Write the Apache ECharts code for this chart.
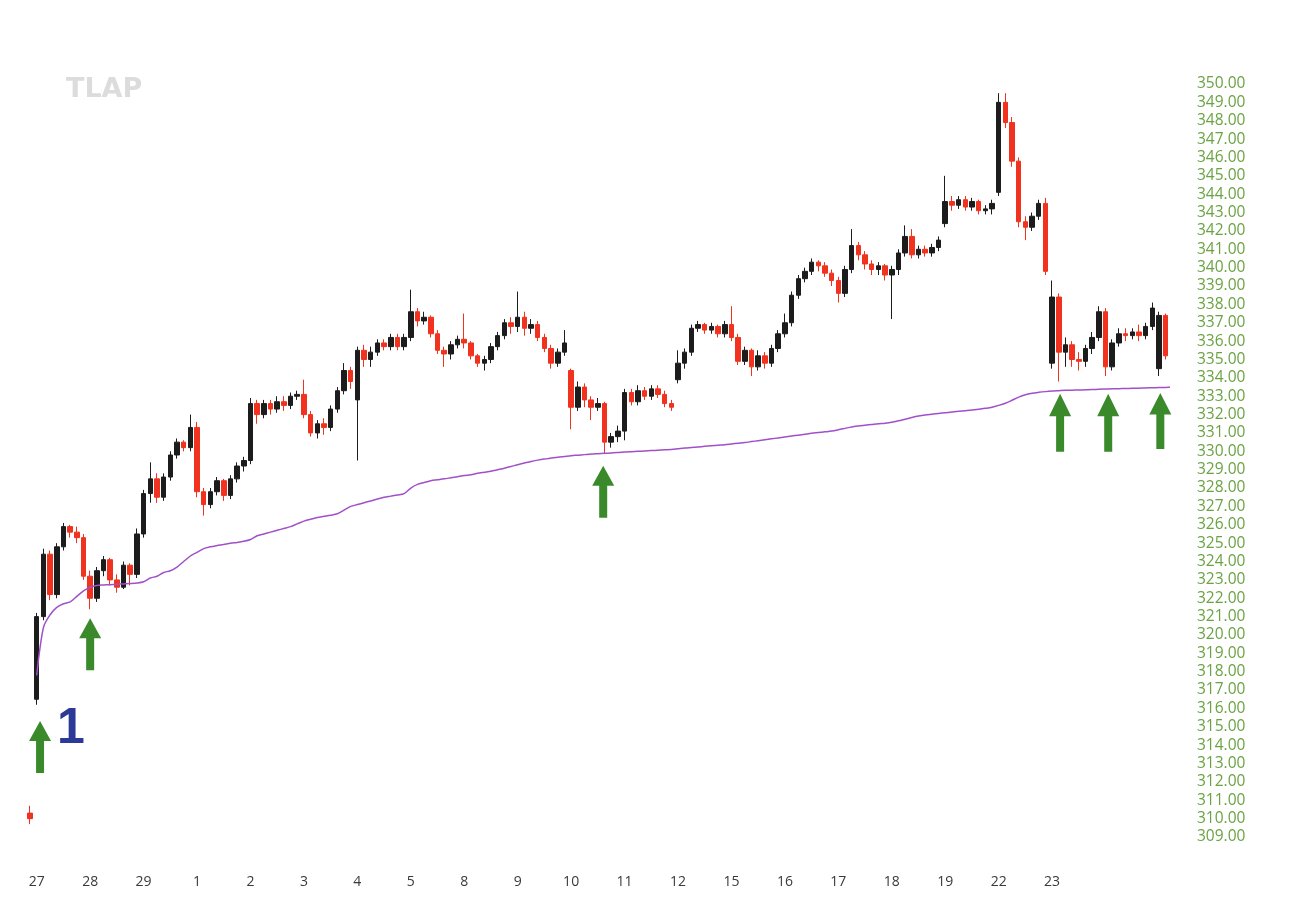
<!DOCTYPE html>
<html>
<head>
<meta charset="utf-8">
<script src="https://cdn.jsdelivr.net/npm/echarts@6/dist/echarts.min.js"></script>
<style>html,body{margin:0;padding:0;background:#fff}#chart{width:1290px;height:921px}</style>
</head>
<body>
<div id="chart"></div>
<script>
// Day labels shown under the first bar of each session (8 bars per session, first session starts at bar 1)
var dayLabels = ['27','28','29','1','2','3','4','5','8','9','10','11','12','15','16','17','18','19','22','23'];
var barsPerDay = 8;
var firstDayBar = 1;

var opens = [310.3,316.5,321.0,324.4,322.2,324.8,325.9,325.6,325.3,323.2,322.0,323.5,324.1,323.0,322.6,323.8,323.3,325.5,327.7,328.5,327.5,328.6,329.8,330.5,330.2,331.3,327.8,327.1,327.8,328.4,327.6,328.5,329.2,329.5,332.6,332.0,332.6,332.3,332.7,332.5,333.0,333.1,332.0,331.0,331.5,331.3,332.3,333.3,334.4,332.8,335.5,335.0,335.4,335.9,335.7,336.2,335.7,336.2,337.6,337.1,337.3,336.4,335.5,335.3,335.8,336.1,335.9,335.2,334.8,335.0,335.7,336.3,337.0,336.8,337.3,336.7,336.9,336.2,335.6,334.8,335.4,334.4,332.4,333.5,332.8,332.4,332.6,330.5,330.8,331.1,333.2,332.7,333.3,333.0,333.4,333.1,332.6,333.9,334.8,335.4,336.7,336.9,336.6,336.8,336.4,336.9,336.2,334.9,335.5,334.6,335.2,334.8,335.6,336.4,337.0,338.5,339.4,339.8,340.3,340.1,339.7,339.3,338.6,339.9,341.2,340.7,340.2,339.9,340.1,339.6,339.9,340.8,341.7,340.7,341.0,340.8,341.1,342.4,343.6,343.4,343.7,343.3,343.6,343.1,343.2,344.1,349.0,347.9,345.8,342.5,342.2,342.8,343.5,334.8,338.4,335.4,335.8,335.0,334.9,335.6,336.2,337.6,334.6,335.9,336.4,336.3,336.5,336.3,336.8,334.5,337.4];
var closes = [310.0,321.0,324.4,322.2,324.8,325.9,325.6,325.3,323.2,322.0,323.5,324.1,323.0,322.6,323.8,323.3,325.5,327.7,328.5,327.5,328.6,329.8,330.5,330.2,331.3,327.8,327.1,327.8,328.4,327.6,328.5,329.2,329.5,332.6,332.0,332.6,332.3,332.7,332.5,333.0,333.1,332.0,331.0,331.5,331.3,332.3,333.3,334.4,333.8,335.5,335.0,335.4,335.9,335.7,336.2,335.7,336.2,337.6,337.1,337.3,336.4,335.5,335.3,335.8,336.1,335.9,335.2,334.8,335.0,335.7,336.3,337.0,336.8,337.3,336.7,336.9,336.2,335.6,334.8,335.4,335.9,332.4,333.5,332.8,332.4,332.6,330.5,330.8,331.1,333.2,332.7,333.3,333.0,333.4,333.1,332.6,332.4,334.8,335.4,336.7,336.9,336.6,336.8,336.4,336.9,336.2,334.9,335.5,334.6,335.2,334.8,335.6,336.4,337.0,338.5,339.4,339.8,340.3,340.1,339.7,339.3,338.6,339.9,341.2,340.7,340.2,339.9,340.1,339.6,339.9,340.8,341.7,340.7,341.0,340.8,341.1,341.5,343.6,343.4,343.7,343.3,343.6,343.1,343.2,343.5,349.0,347.9,345.8,342.5,342.2,342.8,343.5,339.8,338.4,335.4,335.8,335.0,334.9,335.6,336.2,337.6,334.6,335.9,336.4,336.3,336.5,336.3,336.8,337.8,337.4,335.2];
var lows = [309.7,316.2,320.8,321.9,322.0,324.6,325.3,325.0,323.0,321.4,321.8,323.2,322.7,322.3,322.5,322.7,323.1,325.3,327.2,327.2,327.3,328.4,329.6,330.0,330.0,327.5,326.5,326.9,327.6,327.3,327.4,328.3,328.9,329.3,331.5,331.8,332.0,332.1,332.2,332.3,332.8,331.8,330.8,330.7,330.9,331.1,332.1,333.1,333.4,329.5,334.6,334.6,335.2,335.5,335.5,335.5,335.5,336.0,336.8,336.9,336.2,335.3,334.6,335.0,335.6,335.6,335.0,334.6,334.4,334.8,335.5,336.1,336.4,336.5,336.3,336.4,336.0,335.4,334.5,334.6,335.2,331.2,332.2,332.4,331.7,332.2,329.9,330.2,330.5,330.6,332.5,332.5,332.8,332.8,332.9,332.4,332.2,333.7,334.5,335.2,336.5,336.4,336.4,336.2,336.2,336.0,334.7,334.7,334.1,334.4,334.5,334.6,335.4,336.2,336.8,338.3,339.2,339.6,339.8,339.5,339.0,338.1,338.4,339.7,340.4,339.9,339.6,339.6,339.3,337.2,339.6,340.6,340.5,340.5,340.6,340.6,340.9,342.2,343.1,343.2,343.1,343.1,342.9,342.9,342.9,343.9,347.6,345.5,342.2,341.5,342.0,342.6,339.6,334.5,333.8,334.6,334.6,334.4,334.6,335.3,336.0,334.1,334.4,335.7,336.0,336.1,336.0,336.1,336.6,334.1,335.0];
var highs = [310.7,321.2,324.7,324.6,325.0,326.1,326.0,325.9,325.5,323.5,323.7,324.3,324.2,323.3,324.0,323.9,325.8,327.9,329.4,328.8,328.8,330.0,330.7,330.6,332.0,331.6,328.0,328.0,328.6,328.5,328.7,329.4,329.7,332.9,332.8,332.8,332.8,333.0,333.0,333.2,333.3,333.9,332.2,331.7,331.8,332.5,333.5,334.8,334.6,335.7,335.8,335.7,336.1,336.1,336.4,336.4,336.4,338.8,337.8,337.6,337.4,336.6,335.7,336.0,336.3,337.5,336.0,335.3,335.2,335.9,336.5,337.2,337.3,338.7,337.6,337.2,337.1,336.4,335.8,335.6,336.6,334.5,333.8,333.7,333.0,332.9,332.7,331.0,331.4,333.4,333.4,333.6,333.5,333.6,333.6,333.3,332.8,335.5,335.6,336.9,337.1,337.0,337.0,336.9,337.1,337.9,336.4,335.7,335.6,335.5,335.4,335.8,336.6,337.5,338.7,339.6,340.0,340.5,340.4,340.3,339.9,339.5,340.1,342.1,341.4,340.9,340.4,340.3,340.2,340.1,341.0,342.3,342.1,341.2,341.2,341.3,341.7,345.0,343.9,343.9,343.9,343.8,343.7,343.4,343.7,349.5,349.5,348.2,346.0,342.8,343.0,343.7,343.8,339.3,338.6,336.2,336.0,335.4,335.8,336.5,337.9,337.8,336.1,336.7,336.7,336.7,336.9,337.0,338.1,337.6,337.5];
var vwap = [null,317.8,320.4,321.1,321.5,321.7,321.8,322.1,322.4,322.6,322.7,322.72,322.74,322.76,322.78,322.8,322.83,322.9,323.1,323.2,323.4,323.5,323.7,324.0,324.3,324.5,324.7,324.8,324.87,324.93,325.0,325.04,325.1,325.2,325.4,325.5,325.6,325.7,325.8,325.9,326.05,326.2,326.3,326.4,326.46,326.52,326.6,326.8,327.0,327.1,327.2,327.3,327.4,327.5,327.56,327.62,327.7,328.0,328.2,328.3,328.4,328.45,328.5,328.56,328.62,328.68,328.73,328.8,328.86,328.92,329.0,329.08,329.17,329.27,329.36,329.45,329.52,329.58,329.63,329.68,329.72,329.76,329.79,329.82,329.85,329.87,329.89,329.91,329.93,329.96,329.98,330.0,330.02,330.04,330.06,330.08,330.1,330.14,330.18,330.21,330.24,330.27,330.3,330.33,330.36,330.4,330.44,330.48,330.53,330.58,330.63,330.68,330.73,330.78,330.83,330.88,330.93,330.98,331.02,331.06,331.1,331.17,331.25,331.33,331.38,331.42,331.46,331.5,331.53,331.58,331.66,331.75,331.84,331.92,331.98,332.02,332.06,332.1,332.14,332.18,332.21,332.25,332.29,332.34,332.4,332.5,332.62,332.78,332.95,333.08,333.16,333.21,333.25,333.28,333.3,333.32,333.33,333.34,333.35,333.36,333.38,333.39,333.4,333.41,333.42,333.43,333.44,333.45,333.46,333.47,333.48,333.49];
// Green arrows: bar position and price of the arrow's centre
var arrowBars = [1.5, 9.0, 85.8, 154.2, 161.4, 169.2];
var arrowPrices = [313.9, 319.5, 327.8, 331.55, 331.55, 331.65];
var arrowHeights = [52, 52, 52, 58, 58, 56];

var cats = opens.map(function (_, i) { return String(i); });
var candles = opens.map(function (o, i) { return [o, closes[i], lows[i], highs[i]]; });
var arrows = arrowBars.map(function (b, i) { return { value: [b, arrowPrices[i]], symbolSize: [22, arrowHeights[i]] }; });

function dayOf(i) {
  if (i < firstDayBar) return -1;
  return Math.floor((i - firstDayBar) / barsPerDay);
}

var chart = echarts.init(document.getElementById('chart'));
chart.setOption({
  animation: false,
  backgroundColor: '#ffffff',
  title: {
    text: 'TLAP', left: 61, top: 71,
    textStyle: { color: '#dcdcdc', fontSize: 27, fontWeight: 'bold', fontFamily: 'DejaVu Sans' }
  },
  graphic: [{
    type: 'text', left: 57, top: 704,
    style: { text: '1', fill: '#2b3a97', font: 'bold 50px "Liberation Sans", Arial' }
  }],
  grid: { left: 26.7, right: 121, top: 84, bottom: 84 },
  xAxis: [{
    type: 'category', data: cats, boundaryGap: true,
    axisLine: { show: false }, axisTick: { show: false }, splitLine: { show: false },
    axisLabel: {
      margin: 38, color: '#3a3a3a', fontSize: 14, fontFamily: 'Open Sans',
      interval: function (i) {
        var d = dayOf(i);
        return i >= firstDayBar && (i - firstDayBar) % barsPerDay === 0 && d < dayLabels.length;
      },
      formatter: function (v, i) { var d = dayOf(i); return d >= 0 && d < dayLabels.length ? dayLabels[d] : ''; }
    }
  }, {
    type: 'value', min: -0.5, max: opens.length - 0.5, show: false
  }],
  yAxis: {
    type: 'value', position: 'right', min: 309, max: 350, interval: 1, scale: true,
    axisLine: { show: false }, axisTick: { show: false }, splitLine: { show: false },
    axisLabel: {
      margin: 28, color: '#6aa343', fontSize: 15.5, fontFamily: 'Open Sans',
      formatter: function (v) { return v.toFixed(2); }
    }
  },
  series: [{
    type: 'candlestick', data: candles, barWidth: 5,
    itemStyle: { color: '#1c1c1c', color0: '#f0321e', borderColor: '#1c1c1c', borderColor0: '#f0321e', borderWidth: 1 }
  }, {
    type: 'line', data: vwap, showSymbol: false, smooth: 0.3, connectNulls: false,
    lineStyle: { color: '#a050c8', width: 1.5 }, z: 3
  }, {
    type: 'scatter', xAxisIndex: 1, data: arrows,
    symbol: 'path://M11,0 L22,20 L15,20 L15,52 L7,52 L7,20 L0,20 Z',
    itemStyle: { color: '#3a8a2c', opacity: 1 }, z: 5
  }]
});
</script>
</body>
</html>
